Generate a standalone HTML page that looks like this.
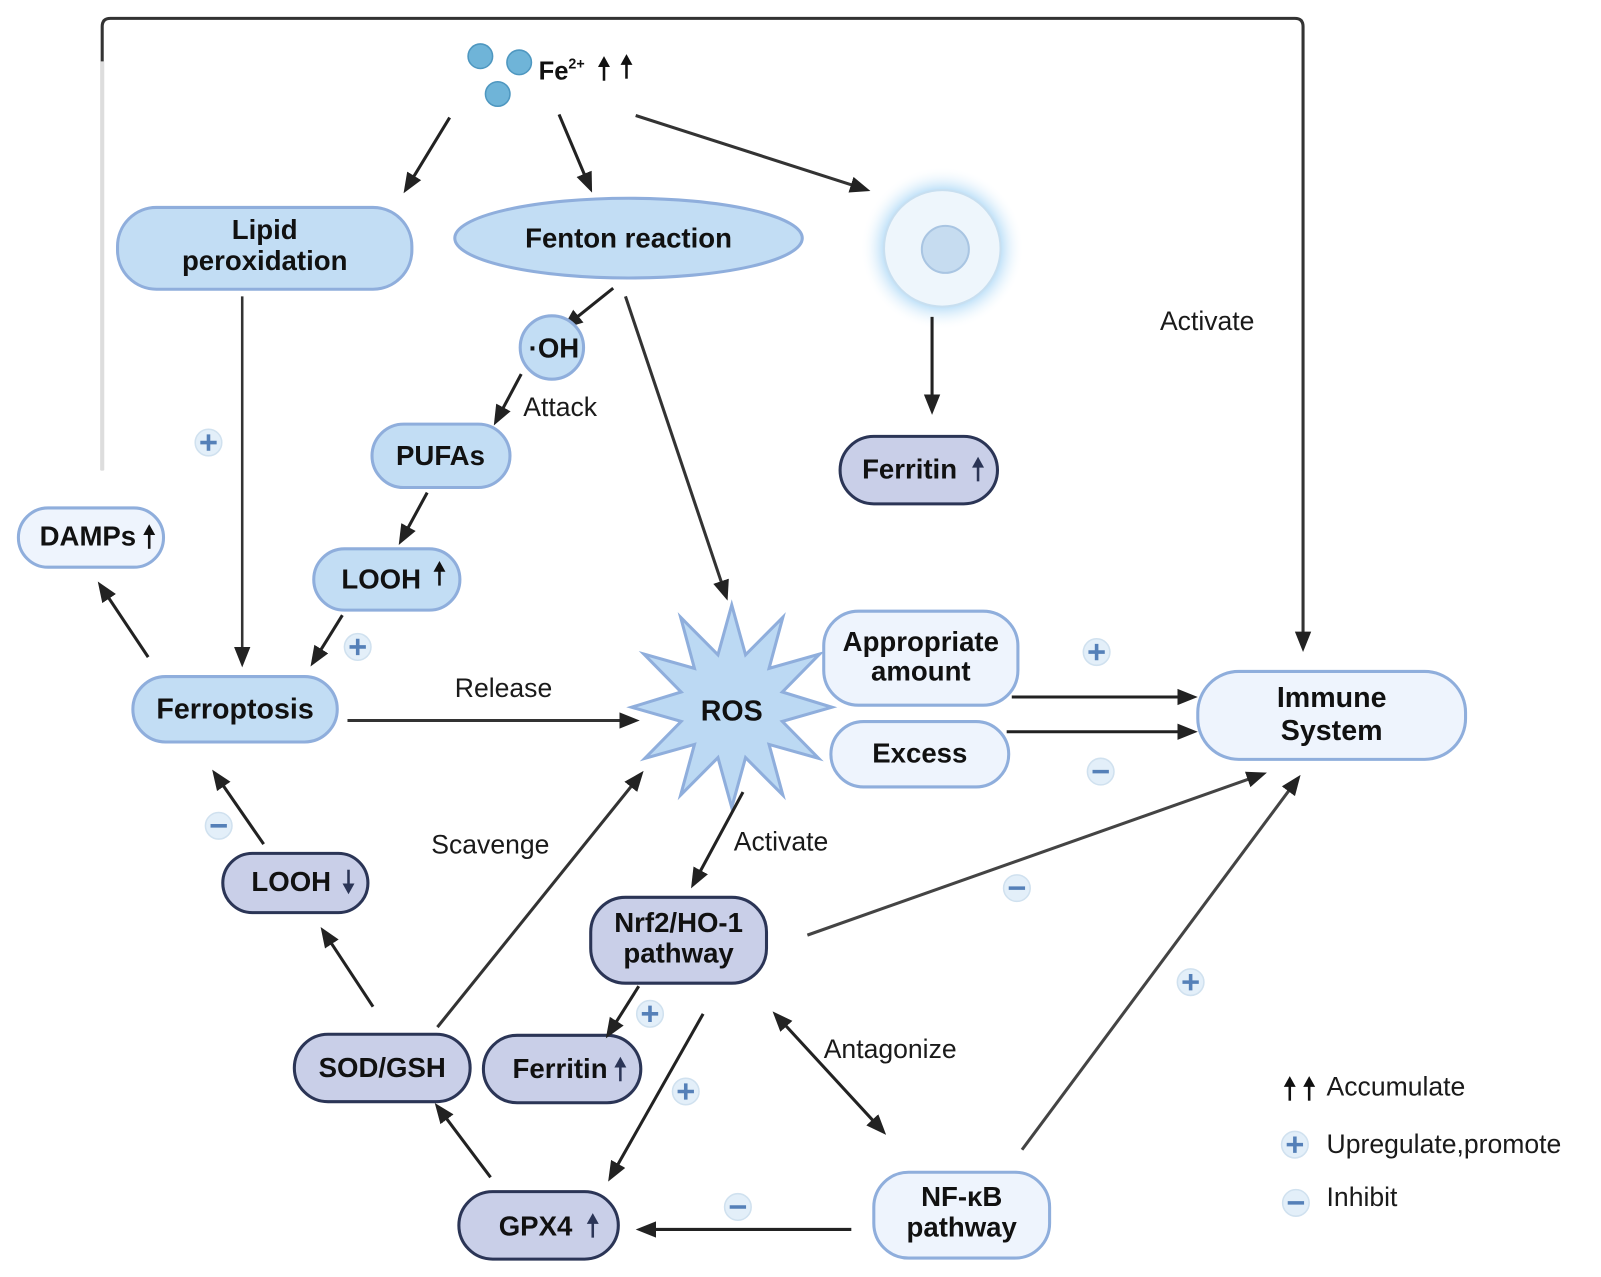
<!DOCTYPE html>
<html><head><meta charset="utf-8"><style>
html,body{margin:0;padding:0;background:#fff;}
svg{display:block;}
text{font-family:"Liberation Sans",Arial,sans-serif;}
.b{font-weight:bold;font-size:27px;fill:#111;text-anchor:middle;}
.r{font-size:26px;fill:#1a1a1a;}
.lt{fill:#c2ddf4;stroke:#8faedc;stroke-width:3;}
.ll{fill:#eef4fd;stroke:#8faedc;stroke-width:3;}
.dk{fill:#c9cfe8;stroke:#2b3556;stroke-width:3;}
</style></head><body>
<svg width="1601" height="1277" viewBox="0 0 1601 1277" xmlns="http://www.w3.org/2000/svg">
<defs>
<marker id="ah2" markerWidth="20" markerHeight="20" refX="14" refY="10" orient="auto" markerUnits="userSpaceOnUse" viewBox="0 0 20 20">
<path d="M0,2 L20,10 L0,18 z" fill="#222"/></marker>
<marker id="as" markerWidth="20" markerHeight="20" refX="6" refY="10" orient="auto" markerUnits="userSpaceOnUse" viewBox="0 0 20 20">
<path d="M20,2 L0,10 L20,18 z" fill="#222"/></marker>
<radialGradient id="glow" cx="50%" cy="50%" r="50%">
<stop offset="0.62" stop-color="#8fcaf3"/><stop offset="1" stop-color="#ffffff" stop-opacity="0"/></radialGradient>
<g id="ua"><line x1="0" y1="11" x2="0" y2="-4" stroke-width="2.5"/><path d="M-5,-3 L0,-12 L5,-3z"/></g>
<g id="da"><line x1="0" y1="-11" x2="0" y2="4" stroke-width="2.5"/><path d="M-5,3 L0,12 L5,3z"/></g>
</defs>
<g transform="scale(1.022)">

<path d="M100,460 L100,26 Q100,18 108,18 L1267,18 Q1275,18 1275,26 L1275,632" stroke="#333" stroke-width="3" fill="none" marker-end="url(#ah2)"/>
<line x1="100" y1="460" x2="100" y2="60" stroke="#ddd" stroke-width="4"/>

<circle cx="470" cy="55" r="12" fill="#6fb4d8" stroke="#4e97c0" stroke-width="1.5"/>
<circle cx="508" cy="61" r="12" fill="#6fb4d8" stroke="#4e97c0" stroke-width="1.5"/>
<circle cx="487" cy="92" r="12" fill="#6fb4d8" stroke="#4e97c0" stroke-width="1.5"/>
<text x="527" y="78" style="font-weight:bold;font-size:25px;fill:#111">Fe<tspan dy="-11" font-size="14">2+</tspan></text>
<g fill="#111" stroke="#111"><use href="#ua" x="591" y="68"/><use href="#ua" x="613" y="66"/></g>

<line x1="440" y1="115" x2="398" y2="184" stroke="#222" stroke-width="3" marker-end="url(#ah2)"/>
<line x1="547" y1="112" x2="577" y2="183" stroke="#222" stroke-width="3" marker-end="url(#ah2)"/>
<line x1="622" y1="113" x2="846" y2="185" stroke="#333" stroke-width="3" marker-end="url(#ah2)"/>

<rect x="115" y="203" width="288" height="80" rx="38" class="lt"/>
<text x="259" y="234" class="b">Lipid</text><text x="259" y="264" class="b">peroxidation</text>
<ellipse cx="615" cy="233" rx="170" ry="39" class="lt"/>
<text x="615" y="242" class="b">Fenton reaction</text>
<circle cx="922" cy="243" r="80" fill="url(#glow)"/>
<circle cx="922" cy="243" r="57" fill="#eef6fc" stroke="#c8dff0" stroke-width="2"/>
<circle cx="925" cy="244" r="23" fill="#c6dcf0" stroke="#a9c5e2" stroke-width="2"/>
<line x1="912" y1="310" x2="912" y2="400" stroke="#222" stroke-width="3" marker-end="url(#ah2)"/>
<rect x="822" y="427" width="154" height="66" rx="33" class="dk"/>
<text x="890" y="468" class="b">Ferritin</text><g fill="#2b3556" stroke="#2b3556"><use href="#ua" x="957" y="460"/></g>
<text x="1135" y="323" class="r">Activate</text>

<line x1="600" y1="282" x2="555" y2="318" stroke="#222" stroke-width="3" marker-end="url(#ah2)"/>
<circle cx="540" cy="340" r="31" class="lt"/>
<text x="542" y="350" class="b">·OH</text>
<line x1="510" y1="366" x2="486" y2="411" stroke="#222" stroke-width="3" marker-end="url(#ah2)"/>
<text x="512" y="407" class="r">Attack</text>
<rect x="364" y="415" width="135" height="62" rx="31" class="lt"/>
<text x="431" y="455" class="b">PUFAs</text>
<line x1="418" y1="482" x2="393" y2="528" stroke="#222" stroke-width="3" marker-end="url(#ah2)"/>
<rect x="307" y="537" width="143" height="60" rx="30" class="lt"/>
<text x="373" y="576" class="b">LOOH</text><g fill="#111" stroke="#111"><use href="#ua" x="430" y="562"/></g>
<line x1="335" y1="602" x2="307" y2="647" stroke="#222" stroke-width="3" marker-end="url(#ah2)"/>

<line x1="612" y1="290" x2="710" y2="582" stroke="#333" stroke-width="3" marker-end="url(#ah2)"/>
<line x1="237" y1="290" x2="237" y2="647" stroke="#333" stroke-width="2.5" marker-end="url(#ah2)"/>

<rect x="18" y="497" width="142" height="58" rx="29" class="ll"/>
<text x="86" y="534" class="b">DAMPs</text><g fill="#111" stroke="#111"><use href="#ua" x="146" y="526"/></g>
<line x1="145" y1="643" x2="99" y2="574" stroke="#222" stroke-width="3" marker-end="url(#ah2)"/>

<rect x="130" y="662" width="200" height="64" rx="32" class="lt"/>
<text x="230" y="703" class="b" style="font-size:28px">Ferroptosis</text>
<line x1="340" y1="705" x2="620" y2="705" stroke="#333" stroke-width="3" marker-end="url(#ah2)"/>
<text x="445" y="682" class="r">Release</text>

<polygon points="716,592 729.5,640.7 766,604 752.5,654 802,640 765.5,677.1 814,692 765.5,705.9 801,742 752.5,728.4 766,778 729.5,741.3 716,790 702.5,741.3 666,778 679.5,728.4 631,742 666.5,705.9 618,692 666.5,677.1 630,640 679.5,654 666,604 702.5,640.7" fill="#bcd9f3" stroke="#8faedc" stroke-width="3"/>
<text x="716" y="705" class="b" style="font-size:28px">ROS</text>

<rect x="806" y="598" width="190" height="92" rx="34" class="ll"/>
<text x="901" y="637" class="b">Appropriate</text><text x="901" y="666" class="b">amount</text>
<rect x="813" y="706" width="174" height="64" rx="32" class="ll"/>
<text x="900" y="746" class="b">Excess</text>
<line x1="990" y1="682" x2="1166" y2="682" stroke="#222" stroke-width="3" marker-end="url(#ah2)"/>
<line x1="985" y1="716" x2="1166" y2="716" stroke="#222" stroke-width="3" marker-end="url(#ah2)"/>
<rect x="1172" y="657" width="262" height="86" rx="40" class="ll"/>
<text x="1303" y="692" class="b" style="font-size:28px">Immune</text><text x="1303" y="724" class="b" style="font-size:28px">System</text>

<line x1="727" y1="775" x2="679" y2="864" stroke="#222" stroke-width="3" marker-end="url(#ah2)"/>
<text x="718" y="832" class="r">Activate</text>
<rect x="578" y="878" width="172" height="84" rx="34" class="dk"/>
<text x="664" y="912" class="b">Nrf2/HO-1</text><text x="664" y="942" class="b">pathway</text>
<line x1="790" y1="915" x2="1234" y2="758" stroke="#444" stroke-width="3" marker-end="url(#ah2)"/>
<line x1="1000" y1="1125" x2="1269" y2="763" stroke="#444" stroke-width="3" marker-end="url(#ah2)"/>
<line x1="428" y1="1005" x2="626" y2="759" stroke="#333" stroke-width="3" marker-end="url(#ah2)"/>
<text x="422" y="835" class="r">Scavenge</text>

<rect x="218" y="835" width="142" height="58" rx="29" class="dk"/>
<text x="285" y="872" class="b">LOOH</text><g fill="#2b3556" stroke="#2b3556"><use href="#da" x="341" y="862"/></g>
<line x1="258" y1="826" x2="211" y2="758" stroke="#222" stroke-width="3" marker-end="url(#ah2)"/>
<line x1="365" y1="985" x2="317" y2="912" stroke="#222" stroke-width="3" marker-end="url(#ah2)"/>

<rect x="288" y="1012" width="172" height="66" rx="33" class="dk"/>
<text x="374" y="1054" class="b">SOD/GSH</text>
<rect x="473" y="1013" width="154" height="66" rx="33" class="dk"/>
<text x="548" y="1055" class="b">Ferritin</text><g fill="#2b3556" stroke="#2b3556"><use href="#ua" x="607" y="1047"/></g>
<line x1="625" y1="965" x2="596" y2="1011" stroke="#222" stroke-width="3" marker-end="url(#ah2)"/>
<line x1="688" y1="992" x2="598" y2="1151" stroke="#222" stroke-width="3" marker-end="url(#ah2)"/>
<line x1="760" y1="994" x2="863" y2="1106" stroke="#222" stroke-width="3" marker-end="url(#ah2)" marker-start="url(#as)"/>
<text x="806" y="1035" class="r">Antagonize</text>
<line x1="480" y1="1152" x2="429" y2="1084" stroke="#222" stroke-width="3" marker-end="url(#ah2)"/>
<rect x="449" y="1166" width="156" height="66" rx="33" class="dk"/>
<text x="524" y="1209" class="b">GPX4</text><g fill="#2b3556" stroke="#2b3556"><use href="#ua" x="580" y="1200"/></g>
<line x1="833" y1="1203" x2="628" y2="1203" stroke="#222" stroke-width="3" marker-end="url(#ah2)"/>
<rect x="855" y="1147" width="172" height="84" rx="34" class="ll"/>
<text x="941" y="1180" class="b">NF-κB</text><text x="941" y="1210" class="b">pathway</text>

<g fill="#111" stroke="#111"><use href="#ua" x="1262" y="1066"/><use href="#ua" x="1281" y="1066"/></g>
<text x="1298" y="1072" class="r">Accumulate</text>
<text x="1298" y="1128" class="r">Upregulate,promote</text>
<text x="1298" y="1180" class="r">Inhibit</text>

<g fill="#e3eff9" stroke="#d0e1ef" stroke-width="1.5">
<circle cx="204" cy="433" r="13"/><circle cx="350" cy="633" r="13"/><circle cx="1073" cy="638" r="13"/>
<circle cx="1077" cy="755" r="13"/><circle cx="214" cy="808" r="13"/><circle cx="995" cy="869" r="13"/>
<circle cx="1165" cy="961" r="13"/><circle cx="636" cy="992" r="13"/><circle cx="671" cy="1068" r="13"/>
<circle cx="722" cy="1181" r="13"/><circle cx="1267" cy="1120" r="13"/><circle cx="1268" cy="1177" r="13"/>
</g>
<g stroke="#5580b8" stroke-width="3.5">
<path d="M196,433h16M204,425v16"/><path d="M342,633h16M350,625v16"/><path d="M1065,638h16M1073,630v16"/>
<path d="M1069,755h16"/><path d="M206,808h16"/><path d="M987,869h16"/>
<path d="M1157,961h16M1165,953v16"/><path d="M628,992h16M636,984v16"/><path d="M663,1068h16M671,1060v16"/>
<path d="M714,1181h16"/><path d="M1259,1120h16M1267,1112v16"/><path d="M1260,1177h16"/>
</g>
</g>
</svg>
</body></html>
